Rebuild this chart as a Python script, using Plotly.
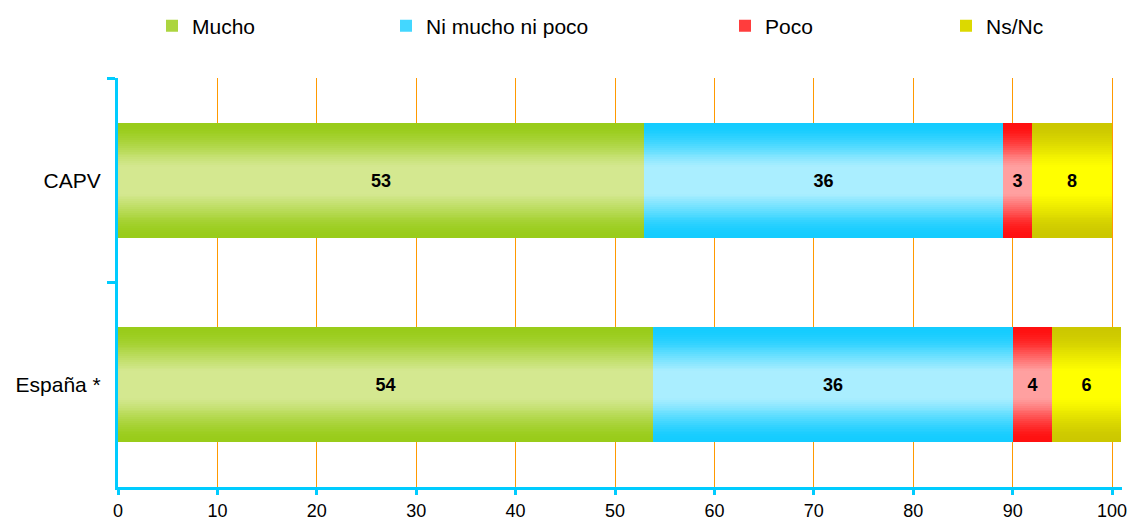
import plotly.graph_objects as go

categories = ["CAPV", "España *"]
series_names = ["Mucho", "Ni mucho ni poco", "Poco", "Ns/Nc"]
mucho = [52.9, 53.8]
ni_mucho_ni_poco = [36.1, 36.2]
poco = [2.9, 4.0]
ns_nc = [8.1, 6.9]
mucho_labels = ["53", "54"]
ni_labels = ["36", "36"]
poco_labels = ["3", "4"]
ns_labels = ["8", "6"]
x_ticks = [0, 10, 20, 30, 40, 50, 60, 70, 80, 90, 100]

values = [mucho, ni_mucho_ni_poco, poco, ns_nc]
labels = [mucho_labels, ni_labels, poco_labels, ns_labels]
# (edge colour, centre colour) of the vertical gradient
grads = [((153, 204, 26), (212, 232, 144)),
         ((20, 204, 255), (170, 238, 255)),
         ((255, 16, 16), (255, 160, 160)),
         ((204, 200, 0), (255, 255, 0))]
legend_ids = ["legend", "legend2", "legend3", "legend4"]

FONT = "Liberation Sans, Arial, sans-serif"
CYAN = "#00CCFF"
BAR_W = 0.56
N = 30

W, H = 1130, 521
PL, PT = 118, 78          # plot area left/top
PW, PH = 1004, 409        # plot area size

fig = go.Figure()

bases = [[0.0] * len(categories)]
for v in values[:-1]:
    bases.append([b + x for b, x in zip(bases[-1], v)])

for si, (name, vals, base, (c0, c1), lid) in enumerate(zip(series_names, values, bases, grads, legend_ids)):
    for k in range(N):
        t = k / (N - 1)
        s = t * t * (3 - 2 * t)
        s = min(1.0, s * 1.15)
        col = "rgb(%d,%d,%d)" % tuple(round(a + (b - a) * s) for a, b in zip(c0, c1))
        w = BAR_W * (1 - k / N)
        fig.add_trace(go.Bar(
            y=categories, x=vals, base=base, orientation="h", width=w,
            marker=dict(color=col, line=dict(width=0)),
            name=name, legend=lid, showlegend=(k == N // 3),
            hoverinfo="skip"))

for name, vals, base, labs in zip(series_names, values, bases, labels):
    fig.add_trace(go.Bar(
        y=categories, x=vals, base=base, orientation="h", width=BAR_W,
        marker=dict(color="rgba(0,0,0,0)", line=dict(width=0)),
        text=labs, textposition="inside", insidetextanchor="middle",
        constraintext="none", cliponaxis=False,
        textfont=dict(family=FONT, size=18, color="black", weight="bold"),
        showlegend=False, name=name, hoverinfo="skip"))

# legend box left edges, in window pixels
legend_x_px = [152, 386, 725, 946]
leg_common = dict(orientation="h", yanchor="middle", y=1.0 + (PT - 26) / PH,
                  xanchor="left", font=dict(family=FONT, size=21, color="black"),
                  bgcolor="rgba(0,0,0,0)", itemwidth=30)
layout_legends = {}
for lid, px in zip(legend_ids, legend_x_px):
    d = dict(leg_common)
    d["x"] = (px - PL) / PW
    layout_legends[lid] = d

fig.update_layout(
    width=W, height=H,
    margin=dict(l=PL, r=W - PL - PW, t=PT, b=H - PT - PH, autoexpand=False),
    paper_bgcolor="white", plot_bgcolor="white",
    barmode="overlay", bargap=0,
    font=dict(family=FONT, color="black"),
    **layout_legends,
)
fig.update_xaxes(
    range=[0, 101], tickvals=x_ticks, ticktext=[str(t) for t in x_ticks],
    showgrid=True, gridcolor="#FF9900", gridwidth=1, zeroline=False,
    showline=True, linecolor=CYAN, linewidth=3, automargin=False,
    ticks="outside", tickcolor=CYAN, tickwidth=3, ticklen=5,
    tickfont=dict(family=FONT, size=18, color="black"),
)
fig.update_yaxes(
    categoryorder="array", categoryarray=categories, autorange="reversed",
    tickson="boundaries", ticks="outside", ticklen=8, tickcolor=CYAN, tickwidth=3,
    showline=True, linecolor=CYAN, linewidth=3, showgrid=False, zeroline=False,
    automargin=False, ticklabelstandoff=10,
    tickfont=dict(family=FONT, size=21, color="black"),
)

fig.write_html("out.html", config={"displayModeBar": False},
               post_script="document.body.style.margin='0';document.body.style.overflow='hidden';")
